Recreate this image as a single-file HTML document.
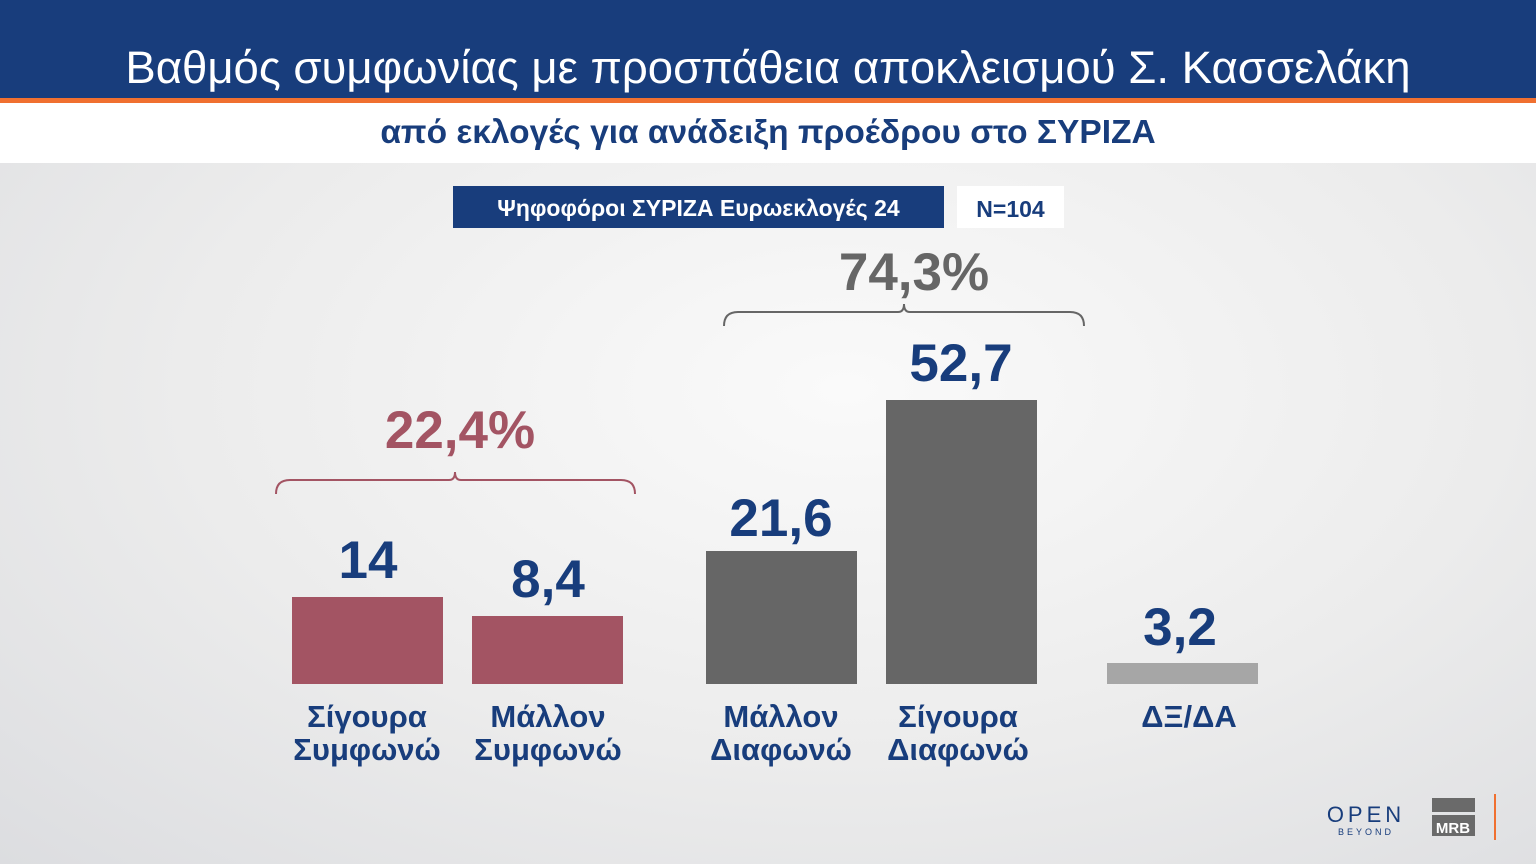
<!DOCTYPE html><html><head><meta charset="utf-8"><style>
body{margin:0;width:1536px;height:864px;overflow:hidden;position:relative;font-family:"Liberation Sans","DejaVu Sans",sans-serif;background:radial-gradient(ellipse at 55% 45%,#fafafa 0%,#ececec 55%,#dcdde0 100%)}
.a{position:absolute}
.hdr{left:0;top:0;width:1536px;height:98px;background:#183d7c}
.or{left:0;top:98px;width:1536px;height:5px;background:#f07030}
.wh{left:0;top:103px;width:1536px;height:60px;background:#fff}
.t{color:#fff;font-size:45.5px;left:0;width:1536px;text-align:center;top:42px}
.st{color:#183d7c;font-weight:bold;font-size:33.5px;left:0;width:1536px;text-align:center;top:114px}
.bar{position:absolute}
.v{position:absolute;width:160px;text-align:center;color:#183d7c;font-weight:bold;font-size:53px}
.l{position:absolute;width:190px;text-align:center;color:#183d7c;font-weight:bold;font-size:31px;line-height:33px}
</style></head><body>
<div class="a hdr"></div><div class="a or"></div><div class="a wh"></div>
<div class="a t">Βαθμός συμφωνίας με προσπάθεια αποκλεισμού Σ. Κασσελάκη</div>
<div class="a st">από εκλογές για ανάδειξη προέδρου στο ΣΥΡΙΖΑ</div>
<div class="a" style="left:453px;top:186px;width:491px;height:42px;background:#183d7c;color:#fff;font-weight:bold;font-size:23px;line-height:44px;text-align:center">Ψηφοφόροι ΣΥΡΙΖΑ Ευρωεκλογές 24</div>
<div class="a" style="left:957px;top:186px;width:107px;height:42px;background:#fff;color:#183d7c;font-weight:bold;font-size:23px;line-height:46px;text-align:center">N=104</div>
<svg class="a" style="left:0;top:0" width="1536" height="864">
<path d="M276 494 Q276 480 290 480 L449 480 Q455 480 455 472 Q455 480 461 480 L621 480 Q635 480 635 494" fill="none" stroke="#a35463" stroke-width="2"/>
<path d="M724 326 Q724 312 738 312 L898 312 Q904 312 904 304 Q904 312 910 312 L1070 312 Q1084 312 1084 326" fill="none" stroke="#666" stroke-width="2"/>
<rect x="1432" y="798" width="43" height="14" fill="#6a6a6a"/><rect x="1432" y="815" width="43" height="21" fill="#6a6a6a"/>
<text x="1453" y="833" fill="#fff" font-size="15" font-weight="bold" text-anchor="middle" font-family="Liberation Sans">MRB</text>
<rect x="1494" y="794" width="2" height="46" fill="#f07030"/>
<text x="1366" y="822" fill="#183d7c" font-size="22" text-anchor="middle" letter-spacing="4" font-family="Liberation Sans">OPEN</text>
<text x="1366" y="835" fill="#183d7c" font-size="9" text-anchor="middle" letter-spacing="3" font-family="Liberation Sans">BEYOND</text>
</svg>
<div class="v" style="left:370px;top:400px;width:180px;color:#a35463">22,4%</div>
<div class="v" style="left:824px;top:242px;width:180px;color:#666">74,3%</div>
<div class="bar" style="left:292px;top:597px;width:151px;height:87px;background:#a35463"></div>
<div class="bar" style="left:472px;top:616px;width:151px;height:68px;background:#a35463"></div>
<div class="bar" style="left:706px;top:551px;width:151px;height:133px;background:#666"></div>
<div class="bar" style="left:886px;top:400px;width:151px;height:284px;background:#666"></div>
<div class="bar" style="left:1107px;top:663px;width:151px;height:21px;background:#a6a6a6"></div>
<div class="v" style="left:288px;top:530px">14</div>
<div class="v" style="left:468px;top:549px">8,4</div>
<div class="v" style="left:701px;top:488px">21,6</div>
<div class="v" style="left:881px;top:333px">52,7</div>
<div class="v" style="left:1100px;top:597px">3,2</div>
<div class="l" style="left:272px;top:700px">Σίγουρα<br>Συμφωνώ</div>
<div class="l" style="left:453px;top:700px">Μάλλον<br>Συμφωνώ</div>
<div class="l" style="left:686px;top:700px">Μάλλον<br>Διαφωνώ</div>
<div class="l" style="left:863px;top:700px">Σίγουρα<br>Διαφωνώ</div>
<div class="l" style="left:1094px;top:700px">ΔΞ/ΔΑ</div>
</body></html>
